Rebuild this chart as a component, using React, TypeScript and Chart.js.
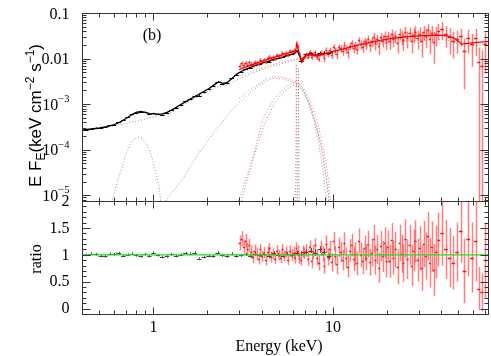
import React, { useEffect, useRef } from 'react';
import { Chart, registerables } from 'chart.js';

Chart.register(...registerables);

// ---------------- axis ranges ----------------
const X_MIN = 0.4;
const X_MAX = 74;
const FLUX_MIN = 7.5e-6;
const FLUX_MAX = 0.1;
const RATIO_MIN = -0.1;
const RATIO_MAX = 2;
const FLUX_UNIT = 1e-3; // flux arrays below are in units of 1e-3 keV cm^-2 s^-1

// ---------------- ticks ----------------
const xMajorTicks = [1, 10];
const xTickLabels = ['1', '10'];
const xMinorTicks = [0.5, 0.6, 0.7, 0.8, 0.9, 2, 3, 4, 5, 6, 7, 8, 9, 20, 30, 40, 50, 60, 70];
const fluxMajorTicks = [0.1, 0.01, 1e-3, 1e-4, 1e-5];
const fluxTickBase = ['0.1', '0.01', '10', '10', '10'];
const fluxTickSup = ['', '', '\u22123', '\u22124', '\u22125'];
const fluxMinorMultipliers = [2, 3, 4, 5, 6, 7, 8, 9];
const fluxMinorDecades = [1e-6, 1e-5, 1e-4, 1e-3, 1e-2];
const ratioMajorTicks = [0, 0.5, 1, 1.5, 2];
const ratioTickLabels = ['0', '0.5', '1', '1.5', '2'];
const ratioMinorTicks = [0.1, 0.2, 0.3, 0.4, 0.6, 0.7, 0.8, 0.9, 1.1, 1.2, 1.3, 1.4, 1.6, 1.7, 1.8, 1.9];

// ---------------- black (soft X-ray) data ----------------
const blackE = [0.42, 0.45, 0.48, 0.51, 0.54, 0.57, 0.60, 0.64, 0.68, 0.72,
  0.76, 0.80, 0.85, 0.90, 0.95, 1.00, 1.06, 1.12, 1.19, 1.26,
  1.34, 1.42, 1.51, 1.60, 1.70, 1.80, 1.91, 2.03, 2.15, 2.28,
  2.42, 2.57, 2.73, 2.90, 3.08, 3.27, 3.47, 3.68, 3.91, 4.15,
  4.40, 4.67, 4.96, 5.26, 5.58, 5.92, 6.28, 6.66, 7.07, 7.50,
  7.96, 8.45, 8.96, 9.51];
const blackFlux = [0.275, 0.291, 0.298, 0.304, 0.310, 0.342, 0.354, 0.402, 0.441, 0.520,
  0.602, 0.653, 0.669, 0.667, 0.608, 0.634, 0.594, 0.586, 0.640, 0.747,
  0.833, 0.980, 1.154, 1.306, 1.508, 1.544, 1.824, 2.136, 2.474, 3.12,
  2.82, 2.86, 3.67, 4.41, 5.15, 5.86, 6.27, 7.14, 7.52, 8.28,
  8.54, 9.68, 10.1, 10.58, 11.83, 12.38, 14.63, 8.67, 12.51, 13.18,
  12.17, 13.42, 13.57, 13.0];
const blackRatio = [1.00, 1.02, 1.01, 0.98, 0.97, 1.02, 1.01, 1.03, 0.98, 1.00,
  1.02, 0.99, 0.97, 1.01, 0.98, 1.04, 0.99, 0.96, 0.97, 1.01,
  0.98, 1.00, 1.03, 1.02, 1.04, 0.93, 0.96, 0.98, 0.97, 1.04,
  0.99, 0.97, 1.02, 0.98, 0.99, 1.01, 0.98, 1.02, 0.99, 1.01,
  0.97, 1.03, 1.00, 0.98, 1.02, 0.99, 1.03, 1.02, 1.06, 1.08,
  1.04, 1.10, 1.06, 0.97];
const blackRatioErr = [0.025, 0.025, 0.025, 0.025, 0.025, 0.025, 0.025, 0.025, 0.025, 0.025,
  0.025, 0.025, 0.025, 0.025, 0.025, 0.025, 0.025, 0.025, 0.025, 0.025,
  0.025, 0.025, 0.025, 0.025, 0.025, 0.025, 0.025, 0.025, 0.025, 0.025,
  0.03, 0.03, 0.03, 0.03, 0.03, 0.03, 0.03, 0.03, 0.03, 0.03,
  0.035, 0.035, 0.035, 0.035, 0.035, 0.035, 0.045, 0.045, 0.045, 0.045,
  0.06, 0.06, 0.06, 0.06];

// black model (solid line)
const blackModelE = [0.40, 0.45, 0.50, 0.55, 0.60, 0.65, 0.70, 0.75, 0.80, 0.85,
  0.90, 0.95, 1.00, 1.06, 1.12, 1.19, 1.26, 1.34, 1.42, 1.51,
  1.60, 1.70, 1.80, 1.91, 2.03, 2.15, 2.28, 2.35, 2.42, 2.57,
  2.73, 2.90, 3.08, 3.27, 3.47, 3.68, 3.91, 4.15, 4.40, 4.67,
  4.96, 5.26, 5.58, 5.92, 6.15, 6.3, 6.4, 6.55, 6.7, 6.9,
  7.07, 7.5, 7.96, 8.45, 8.96, 9.51, 10.0];
const blackModelF = [0.268, 0.285, 0.30, 0.32, 0.35, 0.40, 0.48, 0.57, 0.66, 0.69,
  0.66, 0.62, 0.61, 0.60, 0.61, 0.66, 0.74, 0.85, 0.98, 1.12,
  1.28, 1.45, 1.66, 1.90, 2.18, 2.55, 3.0, 3.05, 2.85, 2.95,
  3.6, 4.5, 5.2, 5.8, 6.4, 7.0, 7.6, 8.2, 8.8, 9.4,
  10.1, 10.8, 11.6, 12.5, 13.3, 14.8, 13.5, 11.0, 8.4, 10.2,
  11.8, 12.2, 11.7, 12.2, 12.8, 13.4, 13.9];

// ---------------- red (hard X-ray) data ----------------
const redE = [
  3.02, 3.10, 3.18, 3.26, 3.34, 3.42, 3.50, 3.58, 3.67, 3.76, 3.85, 3.94, 4.03, 4.13, 4.23, 4.33,
  4.43, 4.54, 4.65, 4.76, 4.87, 4.99, 5.11, 5.23, 5.36, 5.49, 5.62, 5.75, 5.89, 6.03, 6.17, 6.26,
  6.36, 6.50, 6.64, 6.79, 6.94,
  7.10, 7.27, 7.44, 7.61, 7.79, 7.97, 8.16, 8.35, 8.55, 8.75, 8.96, 9.17, 9.39, 9.61, 9.84,
  10.07, 10.31, 10.55, 10.80, 11.06, 11.32, 11.59, 11.86, 12.14, 12.43, 12.72, 13.02, 13.33,
  13.65, 13.97, 14.30, 14.64, 14.99, 15.34, 15.70, 16.07, 16.45, 16.84, 17.24, 17.65, 18.07,
  18.50, 18.94, 19.39, 19.85,
  20.2, 20.7, 21.2, 21.7, 22.3, 22.9, 23.5, 24.1, 24.7, 25.3, 26.0, 26.7, 27.4, 28.1, 28.8,
  29.6, 30.4, 31.2, 32.0, 32.9, 33.8, 34.7, 35.6, 36.6, 37.6, 38.7,
  40.5, 42.5, 44.6, 46.8, 49.1, 51.5, 54.0, 56.7, 59.5, 62.4, 64.9, 67.5, 70.5];
const redFlux = [
  7.03, 7.80, 7.18, 8.16, 7.39, 8.21, 7.56, 7.14, 8.33, 8.14, 7.59, 9.37, 8.53, 9.42, 8.41, 10.2,
  11.1, 9.79, 10.7, 10.0, 12.0, 11.5, 11.1, 13.3, 12.3, 13.5, 12.0, 14.6, 13.9, 15.0, 14.4, 20.7,
  18.2, 12.5, 9.19, 10.1, 11.1,
  12.4, 11.1, 14.1, 10.9, 12.6, 13.7, 10.9, 9.95, 13.4, 12.5, 10.1, 15.5, 12.8, 15.1, 12.1,
  18.1, 14.6, 12.5, 17.7, 16.7, 14.6, 20.3, 16.0, 13.6, 19.2, 21.5, 17.1, 19.4,
  16.4, 25.1, 20.4, 18.3, 23.7, 20.5, 26.5, 19.4, 23.8, 30.4, 21.5, 26.7, 18.8,
  29.1, 24.8, 31.7, 23.2,
  30.6, 23.8, 35.1, 26.4, 31.0, 22.3, 35.4, 29.9, 25.2, 38.9, 28.0, 36.2, 24.7, 33.5, 39.1,
  28.4, 35.4, 23.8, 38.2, 31.3, 43.3, 27.3, 37.0, 23.2, 33.8, 41.2,
  44.9, 34.7, 29.1, 24.4, 26.8, 31.9, 14.8, 28.0, 20.8, 28.0, 8.4, 6.9, 21.1];
const redRatio = [
  1.22, 1.30, 1.15, 1.26, 1.10, 1.18, 1.05, 0.96, 1.08, 1.02, 0.92, 1.10, 0.97, 1.04, 0.90, 1.06,
  1.12, 0.96, 1.02, 0.93, 1.08, 1.00, 0.94, 1.10, 0.98, 1.05, 0.91, 1.07, 0.99, 1.04, 0.95, 1.12,
  1.07, 0.94, 0.91, 1.06, 1.03,
  1.08, 0.92, 1.15, 0.88, 1.05, 1.18, 0.95, 0.85, 1.12, 1.02, 0.80, 1.20, 0.96, 1.10, 0.86,
  1.25, 0.98, 0.82, 1.14, 1.05, 0.90, 1.22, 0.94, 0.78, 1.08, 1.18, 0.92, 1.02,
  0.84, 1.26, 1.00, 0.88, 1.12, 0.95, 1.20, 0.86, 1.04, 1.30, 0.90, 1.10, 0.76,
  1.16, 0.97, 1.22, 0.88,
  1.15, 0.88, 1.28, 0.95, 1.10, 0.78, 1.22, 1.02, 0.85, 1.30, 0.92, 1.18, 0.80, 1.08, 1.25,
  0.90, 1.12, 0.75, 1.20, 0.98, 1.35, 0.85, 1.15, 0.72, 1.05, 1.28,
  1.40, 1.10, 0.95, 0.85, 1.05, 1.45, 0.70, 1.30, 0.95, 1.25, 0.37, 0.30, 0.90];
const redRatioErr = [
  0.14, 0.14, 0.13, 0.13, 0.12, 0.12, 0.12, 0.11, 0.11, 0.11, 0.10, 0.10, 0.10, 0.10, 0.10, 0.10,
  0.10, 0.10, 0.10, 0.10, 0.10, 0.10, 0.10, 0.10, 0.10, 0.10, 0.10, 0.11, 0.11, 0.11, 0.11, 0.11,
  0.11, 0.11, 0.11, 0.11, 0.11,
  0.12, 0.12, 0.12, 0.13, 0.13, 0.13, 0.14, 0.14, 0.14, 0.15, 0.15, 0.16, 0.16, 0.16, 0.17,
  0.17, 0.18, 0.18, 0.18, 0.19, 0.19, 0.20, 0.20, 0.20, 0.21, 0.21, 0.22, 0.22,
  0.22, 0.23, 0.23, 0.24, 0.24, 0.24, 0.25, 0.25, 0.26, 0.26, 0.27, 0.27, 0.28,
  0.28, 0.29, 0.29, 0.30,
  0.30, 0.31, 0.31, 0.32, 0.33, 0.33, 0.34, 0.35, 0.35, 0.36, 0.37, 0.37, 0.38, 0.39, 0.39,
  0.40, 0.41, 0.42, 0.43, 0.44, 0.45, 0.46, 0.47, 0.48, 0.49, 0.50,
  0.60, 0.55, 0.55, 0.50, 0.55, 0.60, 0.60, 0.70, 0.65, 0.75, 0.40, 0.35, 0.70];

// red model (solid line)
const redModelE = [3.0, 3.5, 4.0, 4.5, 5.0, 5.5, 6.0, 6.2, 6.3, 6.4,
  6.55, 6.7, 6.9, 7.2, 7.6, 8.1, 8.6, 9.2, 10, 11,
  12, 13, 14, 15.5, 17, 19, 21, 23.5, 26, 30,
  35, 40, 44, 47, 50, 52, 55, 60, 66, 74];
const redModelF = [5.7, 7.2, 8.7, 10.1, 11.5, 12.9, 14.3, 15.3, 21.5, 15.8,
  12.0, 8.8, 10.5, 12.0, 12.4, 11.4, 12.0, 13.0, 14.4, 15.8,
  17.2, 18.6, 20.0, 21.8, 23.6, 25.6, 27.3, 29.0, 30.4, 31.6,
  32.2, 32.2, 31.0, 28.5, 24.0, 20.8, 21.3, 22.0, 22.9, 23.8];

// ---------------- model components (dotted) ----------------
const softBumpE = [0.585, 0.60, 0.62, 0.65, 0.67, 0.70, 0.73, 0.76, 0.79, 0.83, 0.87, 0.91, 0.95, 0.98, 1.01, 1.04, 1.075, 1.10];
const softBumpF = [0.007, 0.010, 0.016, 0.030, 0.043, 0.075, 0.112, 0.155, 0.178, 0.187, 0.175, 0.140, 0.098, 0.068, 0.043, 0.026, 0.0157, 0.007];

const greyContE = [0.4, 0.5, 0.6, 0.7, 0.8, 0.9, 1.0, 1.1, 1.2, 1.3, 1.4, 1.6, 1.8, 2.0, 2.3, 2.6, 3.0, 3.5, 4.0, 4.5, 5.0, 5.5, 6.0, 6.5, 7.0, 8.0, 9.0, 10.0];
const greyContF = [0.262, 0.29, 0.33, 0.375, 0.42, 0.47, 0.52, 0.565, 0.615, 0.70, 0.85, 1.15, 1.50, 1.90, 2.45, 2.7, 3.6, 4.7, 5.7, 6.6, 7.4, 8.2, 8.9, 9.6, 10.1, 11.1, 12.0, 12.9];

const redContE = [3.0, 3.5, 4.0, 4.5, 5.0, 5.5, 6.0, 6.5, 7.0, 8.0, 9.0, 10, 12, 15, 20, 25, 30, 40, 46, 52, 60, 74];
const redContF = [4.1, 5.2, 6.2, 7.2, 8.0, 8.8, 9.5, 10.2, 10.8, 11.9, 12.9, 13.8, 15.6, 18.2, 21.6, 24.0, 25.6, 26.0, 24.5, 18.5, 19.2, 20.5];

const greyHumpE = [1.17, 1.3, 1.45, 1.6, 1.79, 2.0, 2.22, 2.5, 2.75, 3.12, 3.68, 4.2, 4.66, 5.2, 5.8, 6.22, 6.6, 6.98, 7.4, 7.9, 8.4, 8.83, 9.2, 9.45];
const greyHumpF = [0.0075, 0.013, 0.022, 0.042, 0.084, 0.155, 0.27, 0.48, 0.75, 1.24, 2.2, 3.2, 3.7, 3.6, 3.2, 2.8, 2.3, 1.65, 1.0, 0.45, 0.18, 0.075, 0.025, 0.0075];

const redHumpE = [3.0, 3.3, 3.68, 4.2, 4.66, 5.2, 5.8, 6.22, 6.6, 7.0, 7.4, 7.9, 8.4, 8.83, 9.3, 9.7];
const redHumpF = [1.35, 1.8, 2.45, 3.5, 4.0, 3.95, 3.5, 3.1, 2.6, 2.0, 1.3, 0.65, 0.27, 0.11, 0.035, 0.0075];

const redLineCompE = [2.99, 3.2, 3.55, 3.68, 4.05, 4.4, 4.66, 5.1, 5.6, 6.0, 6.27, 6.6, 7.2, 7.7, 8.1, 8.6, 9.0, 9.3, 9.55];
const redLineCompF = [0.0075, 0.018, 0.06, 0.10, 0.45, 0.85, 1.24, 1.9, 2.6, 3.0, 3.1, 2.6, 1.36, 0.65, 0.32, 0.12, 0.035, 0.016, 0.0075];

const greyLineCompE = [3.1, 3.4, 3.8, 4.2, 4.7, 5.2, 5.7, 6.1, 6.4, 6.8, 7.3, 7.8, 8.3, 8.8, 9.2];
const greyLineCompF = [0.0075, 0.03, 0.13, 0.40, 1.0, 1.7, 2.3, 2.6, 2.55, 2.0, 1.1, 0.45, 0.15, 0.035, 0.0075];

const redFeE = [6.18, 6.235, 6.25, 6.265, 6.32];
const redFeF = [0.0075, 0.6, 7.5, 0.6, 0.0075];
const greyFeE = [6.36, 6.41, 6.425, 6.44, 6.49];
const greyFeF = [0.0075, 0.5, 6.0, 0.5, 0.0075];

const unityE = [0.4, 74];
const unityR = [1, 1];

// ---------------- styles ----------------
const AXIS_COLOR = '#333333';
const SERIF = '"Liberation Serif", "Times New Roman", serif';
const SANS = '"Liberation Sans", Arial, sans-serif';
const GREY_DOT = 'rgba(85,85,85,0.6)';
const RED_DOT = 'rgba(225,45,45,0.6)';

// ---------------- helpers ----------------
type Pt = { x: number; y: number };
const pts = (E: number[], V: number[], s = 1): Pt[] => E.map((e, i) => ({ x: e, y: V[i] * s }));

function binEdges(E: number[]) {
  const lo: number[] = [];
  const hi: number[] = [];
  for (let i = 0; i < E.length; i++) {
    const prev = i > 0 ? E[i - 1] : (E[i] * E[i]) / E[i + 1];
    const next = i < E.length - 1 ? E[i + 1] : (E[i] * E[i]) / E[i - 1];
    lo.push(Math.sqrt(prev * E[i]));
    hi.push(Math.sqrt(E[i] * next));
  }
  return { lo, hi };
}

function dataSet(E: number[], V: number[], err: number[], s: number, vColor: string, hColor: string, order: number, vWidth = 1, hWidth = 1) {
  const { lo, hi } = binEdges(E);
  return {
    data: pts(E, V, s),
    showLine: false,
    pointRadius: 0,
    borderWidth: 0,
    order,
    clip: 0,
    errorBars: {
      xLo: lo,
      xHi: hi,
      yLo: V.map((v, i) => (v - err[i]) * s),
      yHi: V.map((v, i) => (v + err[i]) * s),
      vColor,
      hColor,
      vWidth,
      hWidth,
    },
  };
}

function lineSet(data: Pt[], color: string, width: number, order: number, dotted: boolean) {
  return {
    data,
    borderColor: color,
    borderWidth: width,
    borderDash: dotted ? [1, 2] : [],
    pointRadius: 0,
    fill: false,
    tension: 0,
    order,
    clip: 0,
  };
}

const errorBarPlugin = {
  id: 'errorBars',
  afterDatasetDraw(chart: any, args: any) {
    const ds: any = chart.data.datasets[args.index];
    const eb = ds.errorBars;
    if (!eb) return;
    const xs = chart.scales.x;
    const ys = chart.scales.y;
    const a = chart.chartArea;
    const ctx: CanvasRenderingContext2D = chart.ctx;
    const isLog = ys.type === 'logarithmic';
    const ypx = (v: number) => (isLog && v <= 0 ? a.bottom + 10 : ys.getPixelForValue(v));
    ctx.save();
    ctx.beginPath();
    ctx.rect(a.left, a.top, a.right - a.left, a.bottom - a.top);
    ctx.clip();
    ctx.lineWidth = eb.vWidth;
    ctx.strokeStyle = eb.vColor;
    ds.data.forEach((p: Pt, i: number) => {
      const x = Math.round(xs.getPixelForValue(p.x)) + 0.5;
      ctx.beginPath();
      ctx.moveTo(x, ypx(eb.yLo[i]));
      ctx.lineTo(x, ypx(eb.yHi[i]));
      ctx.stroke();
    });
    ctx.lineWidth = eb.hWidth;
    ctx.strokeStyle = eb.hColor;
    ds.data.forEach((p: Pt, i: number) => {
      const y = Math.round(ypx(p.y)) + 0.5;
      ctx.beginPath();
      ctx.moveTo(xs.getPixelForValue(eb.xLo[i]), y);
      ctx.lineTo(xs.getPixelForValue(eb.xHi[i]), y);
      ctx.stroke();
    });
    ctx.restore();
  },
};

type Seg = { t: string; size: number; dy: number };

function drawSegments(ctx: CanvasRenderingContext2D, segs: Seg[], family: string, align: 'center' | 'right') {
  const widths = segs.map((s) => {
    ctx.font = `${s.size}px ${family}`;
    return ctx.measureText(s.t).width;
  });
  const total = widths.reduce((u, w) => u + w, 0);
  let x = align === 'center' ? -total / 2 : -total;
  ctx.textAlign = 'left';
  ctx.textBaseline = 'alphabetic';
  segs.forEach((s, i) => {
    ctx.font = `${s.size}px ${family}`;
    ctx.fillText(s.t, x, s.dy);
    x += widths[i];
  });
}

function makeFramePlugin(panel: 'flux' | 'ratio') {
  return {
    id: 'frame_' + panel,
    afterDraw(chart: any) {
      const ctx: CanvasRenderingContext2D = chart.ctx;
      const a = chart.chartArea;
      const xs = chart.scales.x;
      const ys = chart.scales.y;
      const L = Math.round(a.left) + 0.5;
      const R = Math.round(a.right) - 0.5;
      const T = Math.round(a.top) + 0.5;
      const B = Math.round(a.bottom) + 0.5;
      ctx.save();
      ctx.strokeStyle = AXIS_COLOR;
      ctx.lineWidth = 1;
      ctx.strokeRect(L, T, R - L, B - T);
      ctx.beginPath();
      const seg = (x1: number, y1: number, x2: number, y2: number) => {
        ctx.moveTo(x1, y1);
        ctx.lineTo(x2, y2);
      };
      xMajorTicks.forEach((v) => {
        const x = Math.round(xs.getPixelForValue(v)) + 0.5;
        seg(x, B, x, B - 7);
        seg(x, T, x, T + 7);
      });
      xMinorTicks.forEach((v) => {
        const x = Math.round(xs.getPixelForValue(v)) + 0.5;
        seg(x, B, x, B - 4);
        seg(x, T, x, T + 4);
      });
      let yMajor: number[];
      let yMinor: number[];
      if (panel === 'flux') {
        yMajor = fluxMajorTicks;
        yMinor = [];
        fluxMinorDecades.forEach((d) => fluxMinorMultipliers.forEach((m) => {
          const v = d * m;
          if (v > FLUX_MIN && v < FLUX_MAX) yMinor.push(v);
        }));
      } else {
        yMajor = ratioMajorTicks;
        yMinor = ratioMinorTicks;
      }
      yMajor.forEach((v) => {
        const y = Math.round(ys.getPixelForValue(v)) + 0.5;
        seg(L, y, L + 8, y);
        seg(R, y, R - 8, y);
      });
      yMinor.forEach((v) => {
        const y = Math.round(ys.getPixelForValue(v)) + 0.5;
        seg(L, y, L + 4, y);
        seg(R, y, R - 4, y);
      });
      ctx.stroke();

      ctx.fillStyle = '#000';
      const labelRight = 69.5;
      if (panel === 'flux') {
        fluxMajorTicks.forEach((v, i) => {
          const y = ys.getPixelForValue(v);
          ctx.save();
          ctx.translate(labelRight, y + 5.5);
          const segs: Seg[] = [{ t: fluxTickBase[i], size: 16, dy: 0 }];
          if (fluxTickSup[i]) segs.push({ t: fluxTickSup[i], size: 10.5, dy: -7.5 });
          drawSegments(ctx, segs, SERIF, 'right');
          ctx.restore();
        });
        ctx.font = `16px ${SERIF}`;
        ctx.textAlign = 'center';
        ctx.textBaseline = 'middle';
        ctx.fillText('(b)', 152, 36);
        ctx.save();
        ctx.translate(40.5, 115.5);
        ctx.rotate(-Math.PI / 2);
        drawSegments(ctx, [
          { t: 'E F', size: 17, dy: 0 },
          { t: 'E', size: 12, dy: 4 },
          { t: '(keV cm', size: 17, dy: 0 },
          { t: '\u22122', size: 12, dy: -7 },
          { t: ' s', size: 17, dy: 0 },
          { t: '\u22121', size: 12, dy: -7 },
          { t: ')', size: 17, dy: 0 },
        ], SANS, 'center');
        ctx.restore();
      } else {
        ctx.font = `16px ${SERIF}`;
        ctx.textAlign = 'right';
        ctx.textBaseline = 'middle';
        ratioMajorTicks.forEach((v, i) => {
          ctx.fillText(ratioTickLabels[i], labelRight, ys.getPixelForValue(v) + 0.5);
        });
        ctx.textAlign = 'center';
        xMajorTicks.forEach((v, i) => {
          ctx.fillText(xTickLabels[i], xs.getPixelForValue(v), 328);
        });
        ctx.fillText('Energy (keV)', 279, 347);
        ctx.save();
        ctx.translate(40.5, 259);
        ctx.rotate(-Math.PI / 2);
        ctx.textAlign = 'center';
        ctx.textBaseline = 'alphabetic';
        ctx.fillText('ratio', 0, 0);
        ctx.restore();
      }
      ctx.restore();
    },
  };
}

const baseOptions = {
  responsive: false,
  maintainAspectRatio: false,
  animation: false as const,
  devicePixelRatio: 1,
  events: [] as any[],
  plugins: {
    legend: { display: false },
    tooltip: { enabled: false },
    title: { display: false },
  },
};

function fluxConfig(): any {
  const k = FLUX_UNIT;
  const blackFluxErr = blackFlux.map((f, i) => (f * blackRatioErr[i]) / blackRatio[i]);
  const redFluxErr = redFlux.map((f, i) => (f * redRatioErr[i]) / redRatio[i]);
  return {
    type: 'line',
    data: {
      datasets: [
        lineSet(pts(redModelE, redModelF, k), '#ff0000', 1.3, 1, false),
        dataSet(redE, redFlux, redFluxErr, k, 'rgba(255,0,0,0.52)', '#ff1010', 2, 1.5, 1.5),
        lineSet(pts(blackModelE, blackModelF, k), '#000000', 1.3, 3, false),
        dataSet(blackE, blackFlux, blackFluxErr, k, '#000000', '#000000', 4),
        lineSet(pts(redContE, redContF, k), RED_DOT, 1, 5, true),
        lineSet(pts(greyContE, greyContF, k), GREY_DOT, 1, 6, true),
        lineSet(pts(softBumpE, softBumpF, k), GREY_DOT, 1, 7, true),
        lineSet(pts(greyHumpE, greyHumpF, k), GREY_DOT, 1, 8, true),
        lineSet(pts(redHumpE, redHumpF, k), RED_DOT, 1, 9, true),
        lineSet(pts(redLineCompE, redLineCompF, k), RED_DOT, 1, 10, true),
        lineSet(pts(greyLineCompE, greyLineCompF, k), GREY_DOT, 1, 11, true),
        lineSet(pts(redFeE, redFeF, k), RED_DOT, 1, 12, true),
        lineSet(pts(greyFeE, greyFeF, k), GREY_DOT, 1, 13, true),
      ],
    },
    options: {
      ...baseOptions,
      layout: { padding: { left: 82, right: 2, top: 13, bottom: 155 } },
      scales: {
        x: { type: 'logarithmic', min: X_MIN, max: X_MAX, display: false },
        y: { type: 'logarithmic', min: FLUX_MIN, max: FLUX_MAX, display: false },
      },
    },
    plugins: [errorBarPlugin, makeFramePlugin('flux')],
  };
}

function ratioConfig(): any {
  return {
    type: 'line',
    data: {
      datasets: [
        lineSet(pts(unityE, unityR), '#22dd22', 1.2, 1, false),
        dataSet(redE, redRatio, redRatioErr, 1, 'rgba(255,0,0,0.5)', '#ff1010', 2, 1.5, 1.5),
        dataSet(blackE, blackRatio, blackRatioErr, 1, '#555555', '#444444', 3),
      ],
    },
    options: {
      ...baseOptions,
      layout: { padding: { left: 82, right: 2, top: 201, bottom: 42 } },
      scales: {
        x: { type: 'logarithmic', min: X_MIN, max: X_MAX, display: false },
        y: { type: 'linear', min: RATIO_MIN, max: RATIO_MAX, display: false },
      },
    },
    plugins: [errorBarPlugin, makeFramePlugin('ratio')],
  };
}

export default function App() {
  const fluxRef = useRef<HTMLCanvasElement>(null);
  const ratioRef = useRef<HTMLCanvasElement>(null);

  useEffect(() => {
    const c1 = new Chart(ratioRef.current as HTMLCanvasElement, ratioConfig());
    const c2 = new Chart(fluxRef.current as HTMLCanvasElement, fluxConfig());
    return () => {
      c1.destroy();
      c2.destroy();
    };
  }, []);

  const canvasStyle: React.CSSProperties = { position: 'absolute', left: 0, top: 0, width: 491, height: 356 };
  return (
    <div style={{ position: 'fixed', left: 0, top: 0, width: 491, height: 356, background: '#ffffff' }}>
      <canvas ref={ratioRef} width={491} height={356} style={canvasStyle} />
      <canvas ref={fluxRef} width={491} height={356} style={canvasStyle} />
    </div>
  );
}
